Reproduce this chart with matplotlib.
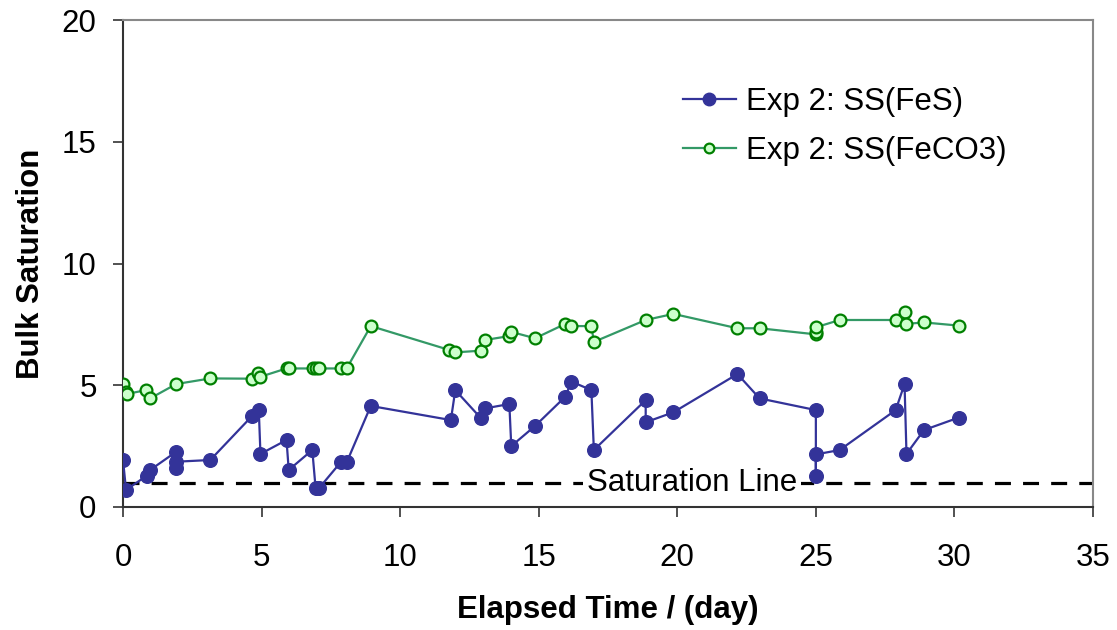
import matplotlib
matplotlib.use("Agg")
import matplotlib.pyplot as plt

plt.rcParams['font.family'] = ['Liberation Sans', 'DejaVu Sans']

# FeS series
t_fes = [0.0, 0.11, 0.86, 0.98, 1.92, 1.92, 1.92, 3.15, 4.66, 4.9, 4.96, 5.9, 5.98,
         6.83, 6.95, 7.07, 7.85, 8.07, 8.94, 11.83, 11.99, 12.92, 13.07, 13.94, 14.01,
         14.87, 15.96, 16.18, 16.9, 16.99, 18.86, 18.86, 19.86, 22.17, 22.97, 25.0,
         25.0, 25.0, 25.86, 27.88, 28.2, 28.27, 28.9, 30.15]
ss_fes = [1.93, 0.70, 1.29, 1.52, 2.27, 1.59, 1.86, 1.93, 3.74, 3.98, 2.18, 2.75, 1.52,
          2.34, 0.77, 0.77, 1.83, 1.83, 4.15, 3.57, 4.80, 3.64, 4.05, 4.23, 2.50,
          3.33, 4.53, 5.15, 4.80, 2.34, 4.39, 3.48, 3.89, 5.46, 4.46, 3.98,
          1.29, 2.16, 2.34, 3.98, 5.05, 2.18, 3.16, 3.67]

# FeCO3 series
t_feco3 = [0.0, 0.11, 0.13, 0.83, 0.98, 1.92, 3.15, 4.66, 4.87, 4.96, 5.9, 5.98, 6.87,
           6.95, 7.07, 7.85, 8.07, 8.94, 11.77, 11.99, 12.92, 13.07, 13.94, 14.01, 14.87,
           15.96, 16.18, 16.9, 16.99, 18.86, 19.86, 22.17, 22.97, 25.0, 25.0, 25.0,
           25.86, 27.88, 28.2, 28.27, 28.9, 30.15]
ss_feco3 = [5.05, 4.74, 4.64, 4.80, 4.46, 5.05, 5.28, 5.27, 5.49, 5.35, 5.69, 5.69, 5.69,
            5.69, 5.69, 5.69, 5.69, 7.43, 6.45, 6.35, 6.42, 6.86, 7.02, 7.19, 6.93,
            7.52, 7.43, 7.43, 6.78, 7.68, 7.93, 7.34, 7.34, 7.09, 7.20, 7.38,
            7.68, 7.68, 8.02, 7.52, 7.58, 7.45]

saturation_level = 1.0
x_ticks = [0, 5, 10, 15, 20, 25, 30, 35]
y_ticks = [0, 5, 10, 15, 20]

FS = 22.5

fig = plt.figure(figsize=(11.17, 6.30), dpi=100)
ax = fig.add_axes([123/1117, 123/630, 970/1117, 487/630])

ax.axhline(saturation_level, color='black', lw=2.3, ls=(0, (5, 3.8)), zorder=1)
ax.text(20.52, saturation_level, 'Saturation Line', fontsize=FS, ha='center', va='center',
        bbox=dict(facecolor='white', edgecolor='none', pad=3), zorder=2)

ax.plot(t_fes, ss_fes, color='#333399', lw=1.6, marker='o', markersize=9.8,
        markerfacecolor='#333399', markeredgecolor='#333399', label='Exp 2: SS(FeS)', zorder=3)
ax.plot(t_feco3, ss_feco3, color='#339966', lw=1.6, marker='o', markersize=8.5,
        markerfacecolor='#CCFFCC', markeredgecolor='#008000', markeredgewidth=1.6,
        label='Exp 2: SS(FeCO3)', zorder=3)

ax.set_xlim(0, 35)
ax.set_ylim(0, 20)
ax.set_xticks(x_ticks)
ax.set_yticks(y_ticks)
ax.tick_params(axis='both', direction='out', length=7, width=1.2, labelsize=FS,
               color='#333333')
ax.tick_params(axis='x', pad=19)
ax.tick_params(axis='y', pad=12)

for s in ['left', 'bottom']:
    ax.spines[s].set_color('#333333')
    ax.spines[s].set_linewidth(1.5)
for s in ['top', 'right']:
    ax.spines[s].set_color('#888888')
    ax.spines[s].set_linewidth(1.5)

ax.set_xlabel('Elapsed Time / (day)', fontsize=FS, fontweight='bold', labelpad=16)
ax.set_ylabel('Bulk Saturation', fontsize=FS, fontweight='bold', labelpad=11)

leg = ax.legend(loc='upper left', bbox_to_anchor=(0.577, 0.862), frameon=False, fontsize=FS,
                handlelength=1.7, handletextpad=0.32, labelspacing=0.6, borderpad=0,
                borderaxespad=0)
leg.legend_handles[0].set_markersize(9)
leg.legend_handles[1].set_markersize(7)

fig.savefig('out.png', dpi=100)
